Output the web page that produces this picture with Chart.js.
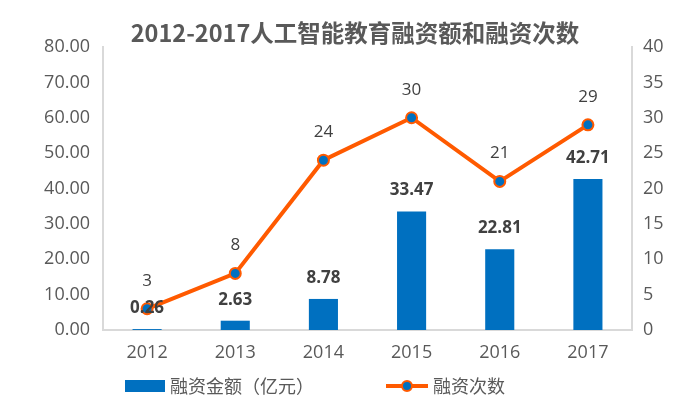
<!DOCTYPE html>
<html>
<head>
<meta charset="utf-8">
<script src="https://cdn.jsdelivr.net/npm/chart.js@4"></script>
<style>
  body { margin: 0; background: #fff; }
  #wrap { width: 690px; height: 408px; }
</style>
</head>
<body>
<div id="wrap"><canvas id="myChart" width="690" height="408"></canvas></div>
<script>
const years = ["2012", "2013", "2014", "2015", "2016", "2017"];
const amounts = [0.26, 2.63, 8.78, 33.47, 22.81, 42.71];
const counts = [3, 8, 24, 30, 21, 29];
const leftTicks = [0, 10, 20, 30, 40, 50, 60, 70, 80];
const rightTicks = [0, 5, 10, 15, 20, 25, 30, 35, 40];

const FONT = '"Open Sans", "Noto Sans CJK SC", sans-serif';
const CJK = '"Noto Sans CJK SC", sans-serif';
const BLUE = '#0070C0';
const ORANGE = '#FF5A00';

// labels, title and legend drawn by hand
const extras = {
  id: 'extras',
  afterDatasetsDraw(chart) {
    const ctx = chart.ctx;
    ctx.save();
    ctx.textAlign = 'center';
    ctx.textBaseline = 'middle';
    ctx.fillStyle = '#404040';

    ctx.font = '17px ' + FONT;
    chart.getDatasetMeta(1).data.forEach((pt, i) => {
      ctx.fillText(String(counts[i]), pt.x, pt.y - 28);
    });
    ctx.font = 'bold 17px ' + FONT;
    chart.getDatasetMeta(0).data.forEach((bar, i) => {
      ctx.fillText(amounts[i].toFixed(2), bar.x, bar.y - 21);
    });

    // title
    ctx.fillStyle = '#595959';
    ctx.font = 'bold 23.5px ' + CJK;
    ctx.fillText('2012-2017人工智能教育融资额和融资次数', 355, 33);

    // legend
    ctx.fillStyle = BLUE;
    ctx.fillRect(125, 380, 40, 12);
    ctx.fillStyle = '#595959';
    ctx.font = '18px ' + CJK;
    ctx.textAlign = 'left';
    ctx.fillText('融资金额（亿元）', 170, 386);

    ctx.strokeStyle = ORANGE;
    ctx.lineWidth = 4;
    ctx.beginPath();
    ctx.moveTo(386, 386);
    ctx.lineTo(428, 386);
    ctx.stroke();
    ctx.beginPath();
    ctx.arc(407, 386, 5, 0, Math.PI * 2);
    ctx.fillStyle = BLUE;
    ctx.fill();
    ctx.lineWidth = 2;
    ctx.stroke();
    ctx.fillStyle = '#595959';
    ctx.fillText('融资次数', 433, 386);
    ctx.restore();
  }
};

new Chart(document.getElementById('myChart').getContext('2d'), {
  data: {
    labels: years,
    datasets: [{
      type: 'bar',
      label: '融资金额（亿元）',
      data: amounts,
      backgroundColor: BLUE,
      yAxisID: 'y',
      barPercentage: 0.66,
      categoryPercentage: 0.5,
      order: 2
    }, {
      type: 'line',
      label: '融资次数',
      data: counts,
      borderColor: ORANGE,
      borderWidth: 4,
      pointBackgroundColor: BLUE,
      pointBorderColor: ORANGE,
      pointBorderWidth: 2,
      pointRadius: 5.5,
      yAxisID: 'y1',
      order: 1
    }]
  },
  options: {
    responsive: false,
    animation: false,
    layout: { padding: { top: 47, bottom: 38, left: 0, right: 0 } },
    plugins: { legend: { display: false }, title: { display: false }, tooltip: { enabled: false } },
    scales: {
      x: {
        grid: { display: false, drawTicks: false },
        border: { color: '#d9d9d9', width: 2 },
        ticks: { color: '#595959', font: { family: FONT, size: 18 }, padding: 12 },
        afterFit(s) { s.height = 40; }
      },
      y: {
        position: 'left',
        min: 0, max: 80,
        grid: { display: false, drawTicks: false },
        border: { color: '#d9d9d9', width: 2 },
        afterBuildTicks(s) { s.ticks = leftTicks.map(v => ({ value: v })); },
        ticks: { color: '#595959', font: { family: FONT, size: 18 }, padding: 13,
                 callback: v => Number(v).toFixed(2) },
        afterFit(s) { s.width = 103; }
      },
      y1: {
        position: 'right',
        min: 0, max: 40,
        grid: { display: false, drawTicks: false },
        border: { color: '#d9d9d9', width: 2 },
        afterBuildTicks(s) { s.ticks = rightTicks.map(v => ({ value: v })); },
        ticks: { color: '#595959', font: { family: FONT, size: 18 }, padding: 11 },
        afterFit(s) { s.width = 58; }
      }
    }
  },
  plugins: [extras]
});
</script>
</body>
</html>
